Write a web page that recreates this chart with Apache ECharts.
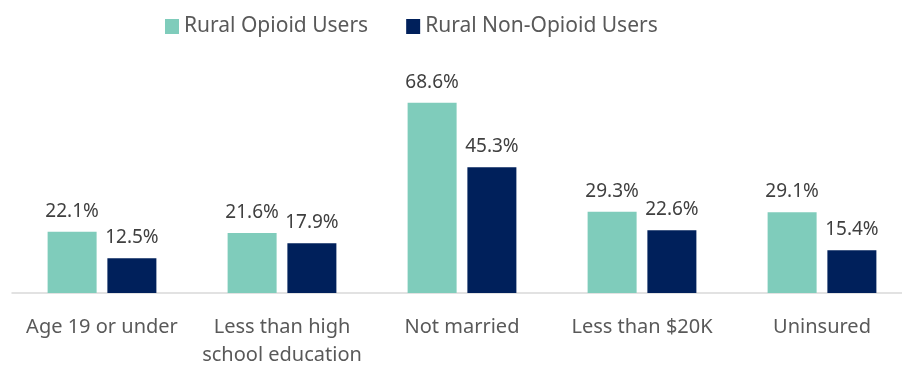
<!DOCTYPE html>
<html>
<head>
<meta charset="utf-8">
<script src="https://cdn.jsdelivr.net/npm/echarts@6/dist/echarts.min.js"></script>
<style>
	html, body { margin: 0; padding: 0; background: #fff; }
	#echart { width: 902px; height: 366px; }
</style>
</head>
<body>
<div id="echart"></div>
<script>
	// data
	var categories = ['Age 19 or under', 'Less than high\nschool education', 'Not married', 'Less than $20K', 'Uninsured'];
	var seriesNames = ['Rural Opioid Users', 'Rural Non-Opioid Users'];
	var opioidUsers = [22.1, 21.6, 68.6, 29.3, 29.1];
	var nonOpioidUsers = [12.5, 17.9, 45.3, 22.6, 15.4];

	var font = '"Noto Sans", sans-serif';
	var myChart = echarts.init(document.getElementById('echart'));

	function labelStyle() {
		return {
			show: true,
			position: 'top',
			distance: 11,
			color: '#404040',
			fontSize: 19,
			fontFamily: font,
			formatter: function (p) { return p.value.toFixed(1) + '%'; }
		};
	}

	myChart.setOption({
		animation: false,
		legend: {
			top: 11,
			left: 160,
			itemWidth: 14,
			itemHeight: 15,
			itemGap: 38,
			icon: 'rect',
			textStyle: { color: '#595959', fontSize: 21, fontFamily: font },
			data: seriesNames
		},
		grid: {
			left: 12,
			right: -10,
			top: 71,
			bottom: 73,
			outerBoundsMode: 'none',
			containLabel: false
		},
		xAxis: {
			type: 'category',
			data: categories,
			axisLine: { lineStyle: { color: '#d9d9d9', width: 1.5 } },
			axisTick: { show: false },
			axisLabel: {
				color: '#595959',
				fontSize: 20,
				fontFamily: font,
				margin: 20,
				lineHeight: 28,
				interval: 0
			}
		},
		yAxis: {
			type: 'value',
			min: 0,
			max: 80,
			show: false,
			splitLine: { show: false }
		},
		series: [{
			name: seriesNames[0],
			type: 'bar',
			data: opioidUsers,
			barWidth: 49,
			barGap: '22%',
			itemStyle: { color: '#7fccbb' },
			label: labelStyle()
		}, {
			name: seriesNames[1],
			type: 'bar',
			data: nonOpioidUsers,
			barWidth: 49,
			itemStyle: { color: '#00205b' },
			label: labelStyle()
		}]
	});
</script>
</body>
</html>
